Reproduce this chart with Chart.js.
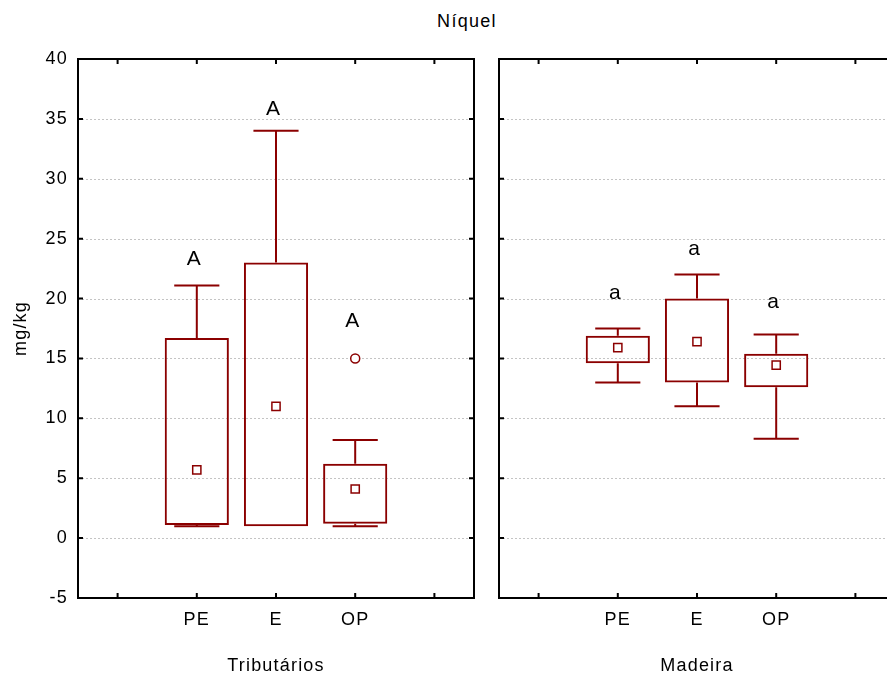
<!DOCTYPE html>
<html>
<head>
<meta charset="utf-8">
<script src="https://cdn.jsdelivr.net/npm/chart.js@4/dist/chart.umd.min.js"></script>
<style>
  html, body { margin: 0; padding: 0; background: #fff; }
  #wrap { position: relative; width: 887px; height: 677px; overflow: hidden; }
  #title { position: absolute; left: 367px; width: 200px; top: 11px; text-align: center;
           font: 18px "Liberation Sans", Arial, sans-serif; letter-spacing: 1.3px; color: #000; }
  canvas { position: absolute; top: 0; }
  #left { left: 0; }
  #right { left: 487px; }
</style>
</head>
<body>
<div id="wrap">
  <div id="title">Níquel</div>
  <canvas id="left" width="487" height="677"></canvas>
  <canvas id="right" width="420" height="677"></canvas>
</div>
<script>
// categories (blank slots at both ends, as in the original)
const categories = ["", "PE", "E", "OP", ""];
const yTicks = [-5, 0, 5, 10, 15, 20, 25, 30, 35, 40];

// Tributários
const tribMin = [null, 1.0, 1.0, 1.0, null];
const tribQ1 = [null, 1.1, 1.0, 1.2, null];
const tribQ3 = [null, 16.7, 23.0, 6.2, null];
const tribMax = [null, 21.1, 34.0, 8.2, null];
const tribMean = [null, 5.7, 11.0, 4.1, null];
const tribOutlier = [null, null, null, 15.0, null];
const tribLetters = ["", "A", "A", "A", ""];
const tribLetterAt = [null, 22.8, 35.3, 17.6, null];

// Madeira
const madMin = [null, 13.0, 11.0, 8.3, null];
const madQ1 = [null, 14.6, 13.0, 12.6, null];
const madQ3 = [null, 16.9, 20.0, 15.4, null];
const madMax = [null, 17.5, 22.0, 17.0, null];
const madMean = [null, 15.9, 16.4, 14.45, null];
const madOutlier = [null, null, null, null, null];
const madLetters = ["", "a", "a", "a", ""];
const madLetterAt = [null, 20.0, 23.6, 19.2, null];

const red = "#8b0000";
const font = "Liberation Sans, Arial, sans-serif";
Chart.defaults.font.family = font;
Chart.defaults.font.size = 18;
Chart.defaults.color = "#000";

function panelPlugin(lo, q1, q3, hi, letters, letterAt) {
  return {
    id: "panel",
    beforeDraw(chart) {
      chart.ctx.letterSpacing = "1.2px";
    },
    beforeDatasetsDraw(chart) {
      const { ctx, chartArea: a, scales: { y } } = chart;
      ctx.save();
      ctx.strokeStyle = "#c4c4c4";
      ctx.lineWidth = 1;
      ctx.setLineDash([2, 2]);
      yTicks.forEach(v => {
        if (v <= -5 || v >= 40) return;
        const py = Math.round(y.getPixelForValue(v)) + 0.5;
        ctx.beginPath();
        ctx.moveTo(a.left, py);
        ctx.lineTo(a.right, py);
        ctx.stroke();
      });
      ctx.restore();
    },
    afterDatasetsDraw(chart) {
      const { ctx, scales: { x, y } } = chart;
      const cap = (x.getPixelForValue(1) - x.getPixelForValue(0)) * 0.285;
      ctx.save();
      ctx.strokeStyle = red;
      ctx.lineWidth = 2;
      categories.forEach((c, i) => {
        if (hi[i] == null) return;
        const px = x.getPixelForValue(i);
        [[q3[i], hi[i]], [q1[i], lo[i]]].forEach(([from, to]) => {
          if (from === to) return;
          ctx.beginPath();
          ctx.moveTo(px, y.getPixelForValue(from));
          ctx.lineTo(px, y.getPixelForValue(to));
          ctx.moveTo(px - cap, y.getPixelForValue(to));
          ctx.lineTo(px + cap, y.getPixelForValue(to));
          ctx.stroke();
        });
      });
      ctx.fillStyle = "#000";
      ctx.font = "21px " + font;
      ctx.letterSpacing = "0px";
      ctx.textAlign = "center";
      ctx.textBaseline = "alphabetic";
      letters.forEach((t, i) => {
        if (!t) return;
        ctx.fillText(t, x.getPixelForValue(i) - 3, y.getPixelForValue(letterAt[i]));
      });
      ctx.restore();
    },
    afterDraw(chart) {
      const { ctx, chartArea: a, scales: { x, y } } = chart;
      ctx.save();
      ctx.strokeStyle = "#000";
      ctx.lineWidth = 2;
      ctx.strokeRect(a.left, a.top, a.right - a.left, a.bottom - a.top);
      ctx.beginPath();
      yTicks.forEach(v => {
        const py = y.getPixelForValue(v);
        ctx.moveTo(a.left, py); ctx.lineTo(a.left + 5, py);
        ctx.moveTo(a.right, py); ctx.lineTo(a.right - 5, py);
      });
      categories.forEach((c, i) => {
        const px = x.getPixelForValue(i);
        ctx.moveTo(px, a.top); ctx.lineTo(px, a.top + 5);
        ctx.moveTo(px, a.bottom); ctx.lineTo(px, a.bottom - 5);
      });
      ctx.stroke();
      ctx.restore();
    }
  };
}

function makePanel(canvas, name, q1, q3, mean, outlier, showY, padding, plugin) {
  return new Chart(canvas, {
    type: "bar",
    data: {
      labels: categories,
      datasets: [
        {
          type: "line",
          data: mean,
          showLine: false,
          pointStyle: "rect",
          pointRadius: 5.8,
          pointBackgroundColor: "#fff",
          pointBorderColor: red,
          pointBorderWidth: 1.5,
          order: 1
        },
        {
          type: "line",
          data: outlier,
          showLine: false,
          pointStyle: "circle",
          pointRadius: 4.5,
          pointBackgroundColor: "#fff",
          pointBorderColor: red,
          pointBorderWidth: 1.5,
          order: 1
        },
        {
          data: categories.map((c, i) => q1[i] == null ? null : [q1[i], q3[i]]),
          backgroundColor: "rgba(255,255,255,0)",
          borderColor: red,
          borderWidth: 2,
          borderSkipped: false,
          barPercentage: 0.81,
          categoryPercentage: 1,
          order: 3
        }
      ]
    },
    options: {
      responsive: false,
      animation: false,
      layout: { padding: padding },
      plugins: { legend: { display: false }, tooltip: { enabled: false } },
      scales: {
        x: {
          offset: true,
          grid: { display: false, drawTicks: false, tickLength: 0 },
          border: { display: false },
          ticks: { padding: 11, maxRotation: 0, autoSkip: false },
          title: { display: true, text: name, padding: { top: 0, bottom: 0 } },
          afterFit(s) { s.height = 79; }
        },
        y: {
          display: showY,
          min: -5,
          max: 40,
          grid: { display: false, drawTicks: false, tickLength: 0 },
          border: { display: false },
          ticks: { stepSize: 5, padding: 10 },
          title: { display: true, text: "mg/kg", padding: { top: 10, bottom: 0 } },
          afterFit(s) { s.width = showY ? 78 : 0; }
        }
      }
    },
    plugins: [plugin]
  });
}

makePanel(document.getElementById("left"), "Tributários", tribQ1, tribQ3, tribMean, tribOutlier, true,
  { top: 59, right: 13, left: 0, bottom: 0 },
  panelPlugin(tribMin, tribQ1, tribQ3, tribMax, tribLetters, tribLetterAt));

makePanel(document.getElementById("right"), "Madeira", madQ1, madQ3, madMean, madOutlier, false,
  { top: 59, right: 12, left: 12, bottom: 0 },
  panelPlugin(madMin, madQ1, madQ3, madMax, madLetters, madLetterAt));
</script>
</body>
</html>
